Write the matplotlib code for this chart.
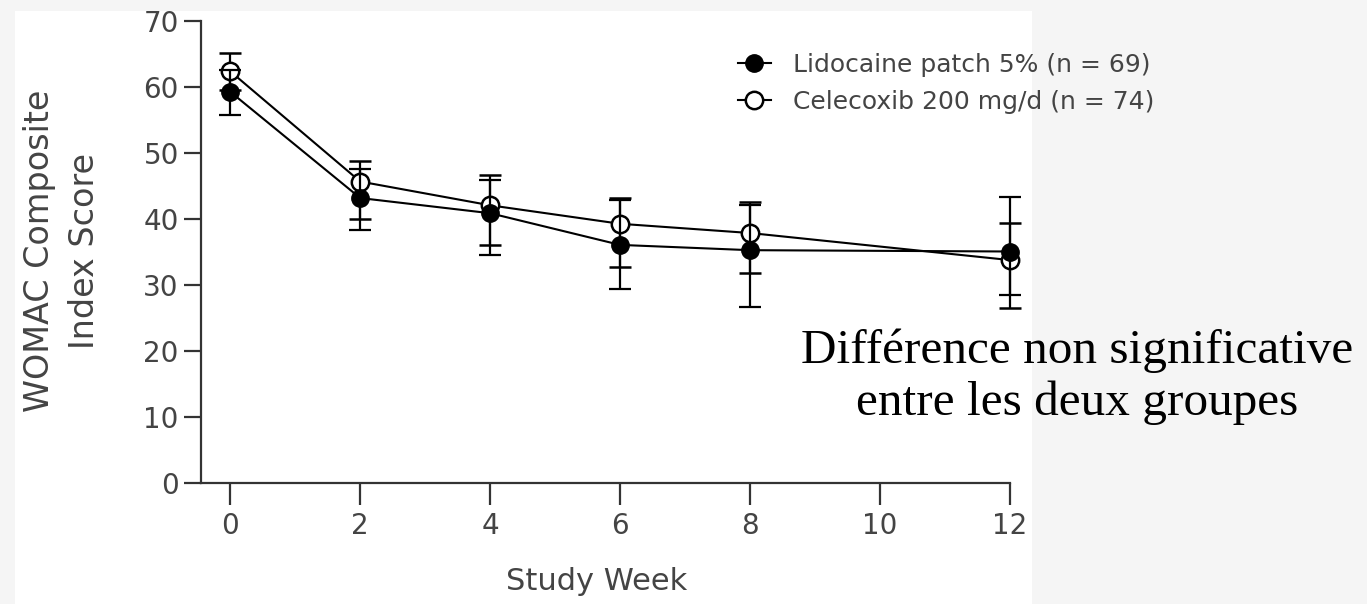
import matplotlib
matplotlib.use("Agg")
import matplotlib.pyplot as plt
from matplotlib.patches import Rectangle
from matplotlib.lines import Line2D

# data
weeks = [0, 2, 4, 6, 8, 12]
lido = [59.2, 43.1, 40.8, 36.0, 35.2, 35.0]
lido_hi = [62.5, 47.5, 45.8, 42.8, 42.0, 43.2]
lido_lo = [55.7, 38.3, 34.5, 29.3, 26.6, 28.4]
cele = [62.3, 45.6, 42.0, 39.2, 37.8, 33.7]
cele_hi = [65.1, 48.7, 46.6, 43.1, 42.5, 39.3]
cele_lo = [59.4, 40.0, 36.0, 32.7, 31.7, 26.4]

xticks = [0, 2, 4, 6, 8, 10, 12]
yticks = [0, 10, 20, 30, 40, 50, 60, 70]
labels = ["Lidocaine patch 5% (n = 69)", "Celecoxib 200 mg/d (n = 74)"]
note = "Différence non significative\nentre les deux groupes"

plt.rcParams['font.family'] = ['DejaVu Sans']
grey = "#444444"

fig = plt.figure(figsize=(13.67, 6.04), dpi=100)
fig.patch.set_facecolor("#f5f5f5")
# white panel of the pasted chart
fig.patches.append(Rectangle((15/1367, 0), (1032-15)/1367, 1 - 11/604,
                             transform=fig.transFigure, facecolor="white",
                             edgecolor="none", zorder=-10))

ax = fig.add_axes([201/1367, 1 - 482.5/604, (1010-201)/1367, (482.5-20.5)/604])
ax.set_facecolor("none")

def err(vals, lo, hi):
    return [[v - l for v, l in zip(vals, lo)], [h - v for v, h in zip(vals, hi)]]

ax.errorbar(weeks, cele, yerr=err(cele, cele_lo, cele_hi), color="black",
            marker="o", markersize=12.5, markerfacecolor="white", markeredgecolor="black",
            markeredgewidth=1.8, linewidth=1.5, elinewidth=1.6, capsize=8, capthick=1.6,
            clip_on=False, zorder=3)
ax.errorbar(weeks, lido, yerr=err(lido, lido_lo, lido_hi), color="black",
            marker="o", markersize=12.5, markerfacecolor="black", markeredgecolor="black",
            linewidth=1.5, elinewidth=1.6, capsize=8, capthick=1.6,
            clip_on=False, zorder=4)

ax.set_xlim(-0.45, 12)
ax.set_ylim(0, 70)
ax.set_xticks(xticks)
ax.set_yticks(yticks)
ax.spines['top'].set_visible(False)
ax.spines['right'].set_visible(False)
for s in ['left', 'bottom']:
    ax.spines[s].set_color("#333333")
    ax.spines[s].set_linewidth(1.6)
ax.tick_params(axis='both', colors="#333333", labelcolor=grey, labelsize=20, width=1.6)
ax.tick_params(axis='y', length=12, pad=4)
ax.tick_params(axis='x', length=16, pad=5)

fig.text(597/1367, 1 - 582/604, "Study Week", ha="center", va="center", fontsize=22, color=grey)
fig.text(62/1367, 1 - 251/604, "WOMAC Composite\nIndex Score", ha="center", va="center",
         rotation=90, fontsize=24, color=grey, linespacing=1.45)

# legend: line + marker only
h = [Line2D([], [], color="black", lw=1.5, marker="o", markersize=12.5, markerfacecolor="black"),
     Line2D([], [], color="black", lw=1.5, marker="o", markersize=12.5, markerfacecolor="white",
            markeredgewidth=1.8)]
leg = fig.legend(h, labels, loc="upper left", bbox_to_anchor=(738/1367, 1 - 53/604),
                 frameon=False, fontsize=18, handlelength=1.3, handletextpad=0.9,
                 labelspacing=0.5, borderpad=0, borderaxespad=0)
for t in leg.get_texts():
    t.set_color(grey)

fig.text(1077/1367, 1 - 377/604, note, ha="center", va="center", fontsize=35.5,
         family="Liberation Serif", color="black", linespacing=1.22)

fig.savefig("out.png", dpi=100, facecolor=fig.get_facecolor())
